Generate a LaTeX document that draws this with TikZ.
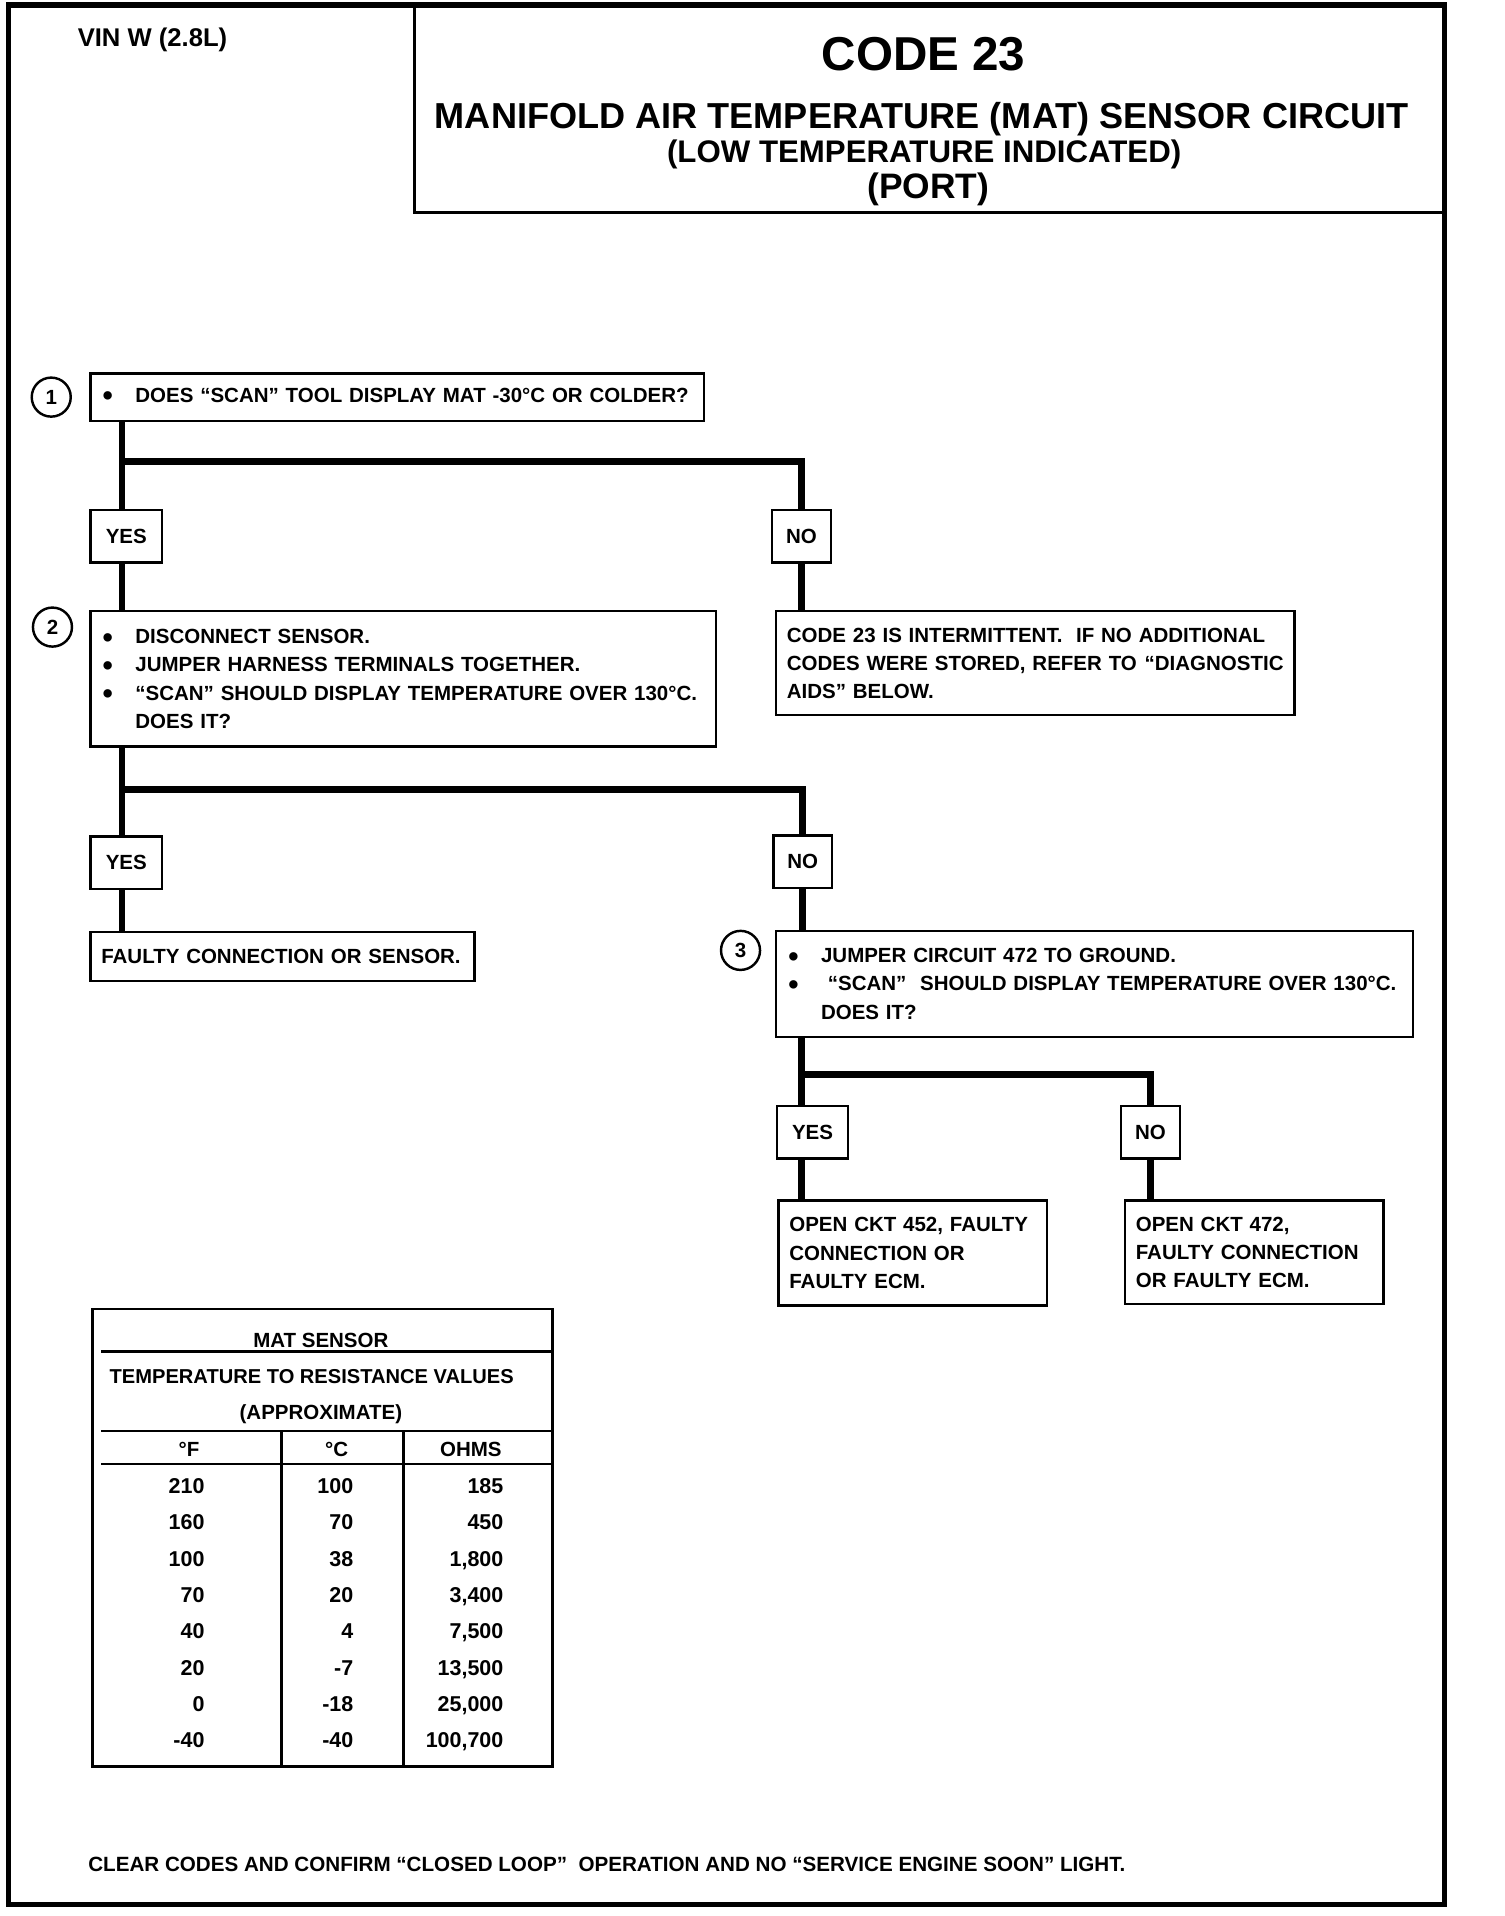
\documentclass[tikz,border=0pt]{standalone}
\usepackage{fontspec}
\setmainfont{Liberation Sans}
\usetikzlibrary{positioning}

\newcommand{\bul}{\makebox[14pt][l]{\hspace{0.6pt}\raisebox{-1.4pt}{\fontsize{12}{0}\selectfont\textbullet}}}
\newcommand{\nobul}{\hspace*{14pt}}

\begin{document}
\begin{tikzpicture}[x=0.5pt, y=-0.5pt,
    stepbox/.style={draw, line width=1pt, anchor=north west, inner xsep=4.5pt, inner ysep=0pt,
      align=left, font=\bfseries\fontsize{8.4}{11.5}\selectfont},
    answer/.style={draw, line width=1pt, minimum height=21.5pt, inner sep=0pt,
      font=\bfseries\fontsize{8.4}{10}\selectfont},
    stepnum/.style={circle, draw, line width=1pt, minimum size=16pt, inner sep=0pt,
      font=\bfseries\fontsize{8.4}{10}\selectfont},
    flow/.style={line width=2.8pt},
    cell/.style={inner sep=0pt, text height=6.1pt, text depth=0pt,
      font=\bfseries\fontsize{8.8}{10}\selectfont},
    head/.style={inner sep=0pt, text depth=0pt}
  ]
    \useasboundingbox (0,0) rectangle (1232.8,1570.5);

    % frame and title block
    \draw [line width=2.2pt] (7,4) rectangle (1184,1561);
    \draw [line width=1.3pt] (340,4) -- (340,174) -- (1184,174);

    \node (vin) [head, text height=7.2pt, font=\bfseries\fontsize{10.5}{12}\selectfont] at (125,31) {VIN W (2.8L)};
    \node (code) [head, text height=13.4pt, font=\bfseries\fontsize{19.5}{22}\selectfont] at (757,44) {CODE 23};
    \node (title) [head, text height=10.2pt, font=\bfseries\fontsize{14.8}{17}\selectfont] at (755.5,95) {MANIFOLD AIR TEMPERATURE (MAT) SENSOR CIRCUIT};
    \node (sub) [head, text height=8.8pt, font=\bfseries\fontsize{12.8}{15}\selectfont] at (757.5,124) {(LOW TEMPERATURE INDICATED)};
    \node (port) [head, text height=10pt, font=\bfseries\fontsize{14.5}{17}\selectfont] at (761,153) {(PORT)};

    % steps
    \node (q1) [stepbox, text width=242.5pt, minimum height=19.5pt] at (73,305)
      {\bul DOES “SCAN” TOOL DISPLAY MAT -30°C OR COLDER?};
    \node (n1) [stepnum, left=7pt of q1] {1};

    \node (yes1) [answer, minimum width=29.5pt] at (103.5,439.5) {YES};
    \node (no1) [answer, minimum width=24pt] at (657,439.5) {NO};

    \node (q2) [stepbox, text width=247.5pt, minimum height=55.5pt] at (73,500)
      {\bul DISCONNECT SENSOR.\\
       \bul JUMPER HARNESS TERMINALS TOGETHER.\\
       \bul “SCAN” SHOULD DISPLAY TEMPERATURE OVER 130°C.\\
       \nobul DOES IT?};
    \node (n2) [stepnum] at (43,514) {2};

    \node (int) [stepbox, text width=203.5pt, minimum height=42.5pt] at (635,500)
      {\mbox{CODE 23 IS INTERMITTENT.\ \ IF NO ADDITIONAL}\\
       \mbox{CODES WERE STORED, REFER TO\hspace{3.2pt}“DIAGNOSTIC}\\
       \mbox{AIDS” BELOW.}};

    \node (yes2) [answer, minimum width=29.5pt] at (103.5,707) {YES};
    \node (no2) [answer, minimum width=24pt] at (658,706.5) {NO};

    \node (faulty) [stepbox, text width=148.5pt, minimum height=20pt] at (73,763)
      {FAULTY CONNECTION OR SENSOR.};

    \node (q3) [stepbox, text width=252pt, minimum height=43.5pt] at (635,762)
      {\bul JUMPER CIRCUIT 472 TO GROUND.\\
       \bul\ “SCAN”\ \ SHOULD DISPLAY TEMPERATURE OVER 130°C.\\
       \nobul DOES IT?};
    \node (n3) [stepnum] at (607,779) {3};

    \node (yes3) [answer, minimum width=29pt] at (666,928) {YES};
    \node (no3) [answer, minimum width=24pt] at (943,928) {NO};

    \node (open452) [stepbox, text width=101pt, minimum height=43pt] at (637,983)
      {\mbox{OPEN CKT 452, FAULTY}\\ CONNECTION OR\\ FAULTY ECM.};
    \node (open472) [stepbox, text width=97pt, minimum height=42.5pt] at (921,983)
      {OPEN CKT 472,\\ \mbox{FAULTY CONNECTION}\\ OR FAULTY ECM.};

    % flow lines
    \coordinate (j1) at (100,378);
    \draw [flow] (j1 |- q1.south) -- (j1 |- yes1.north);
    \draw [flow] (j1) -| (no1.north);
    \draw [flow] (j1 |- yes1.south) -- (j1 |- q2.north);
    \draw [flow] (no1.south) -- (no1.south |- int.north);

    \coordinate (j2) at (100,647);
    \draw [flow] (j2 |- q2.south) -- (j2 |- yes2.north);
    \draw [flow] (j2) -| (no2.north);
    \draw [flow] (j2 |- yes2.south) -- (j2 |- faulty.north);
    \draw [flow] (no2.south) -- (no2.south |- q3.north);

    \coordinate (j3) at (657,881);
    \draw [flow] (j3 |- q3.south) -- (j3 |- yes3.north);
    \draw [flow] (j3) -| (no3.north);
    \draw [flow] (j3 |- yes3.south) -- (j3 |- open452.north);
    \draw [flow] (no3.south) -- (no3.south |- open472.north);

    % MAT sensor table
    \draw [line width=1.1pt] (76,1073) rectangle (453,1448);
    \draw [line width=1.1pt] (83,1108) -- (453,1108);
    \draw [line width=1.1pt] (83,1173) -- (453,1173);
    \draw [line width=1.1pt] (83,1200) -- (453,1200);
    \draw [line width=1.1pt] (231,1173) -- (231,1448);
    \draw [line width=1.1pt] (331,1173) -- (331,1448);

    \node (mat) [cell, font=\bfseries\fontsize{8.4}{10}\selectfont, text height=5.8pt] at (263,1099) {MAT SENSOR};
    \node (trv) [cell, font=\bfseries\fontsize{8.24}{10}\selectfont, text height=5.7pt] at (255.5,1128) {TEMPERATURE TO RESISTANCE VALUES};
    \node (approx) [cell, font=\bfseries\fontsize{8.4}{10}\selectfont, text height=5.8pt] at (263,1158) {(APPROXIMATE)};
    \node (hf) [cell, font=\bfseries\fontsize{8.4}{10}\selectfont, text height=5.8pt] at (155,1188) {°F};
    \node (hc) [cell, font=\bfseries\fontsize{8.4}{10}\selectfont, text height=5.8pt] at (276,1188) {°C};
    \node (ho) [cell, font=\bfseries\fontsize{8.4}{10}\selectfont, text height=5.8pt] at (386,1188) {OHMS};

    \foreach \f/\c/\o [count=\i from 0] in {210/100/185, 160/70/450, 100/38/1{,}800,
        70/20/3{,}400, 40/4/7{,}500, 20/-7/13{,}500, 0/-18/25{,}000, -40/-40/100{,}700} {
      \node (f\i) [cell, anchor=east] at (168,{1218+29.8*\i}) {\f};
      \node (c\i) [cell, anchor=east] at (290,{1218+29.8*\i}) {\c};
      \node (o\i) [cell, anchor=east] at (413,{1218+29.8*\i}) {\o};
    }

    \node (clear) [head, anchor=west, text height=5.8pt, font=\bfseries\fontsize{8.45}{10}\selectfont] at (72,1528)
      {CLEAR CODES AND CONFIRM “CLOSED LOOP”\ \ OPERATION AND NO “SERVICE ENGINE SOON” LIGHT.};
  \end{tikzpicture}
\end{document}
